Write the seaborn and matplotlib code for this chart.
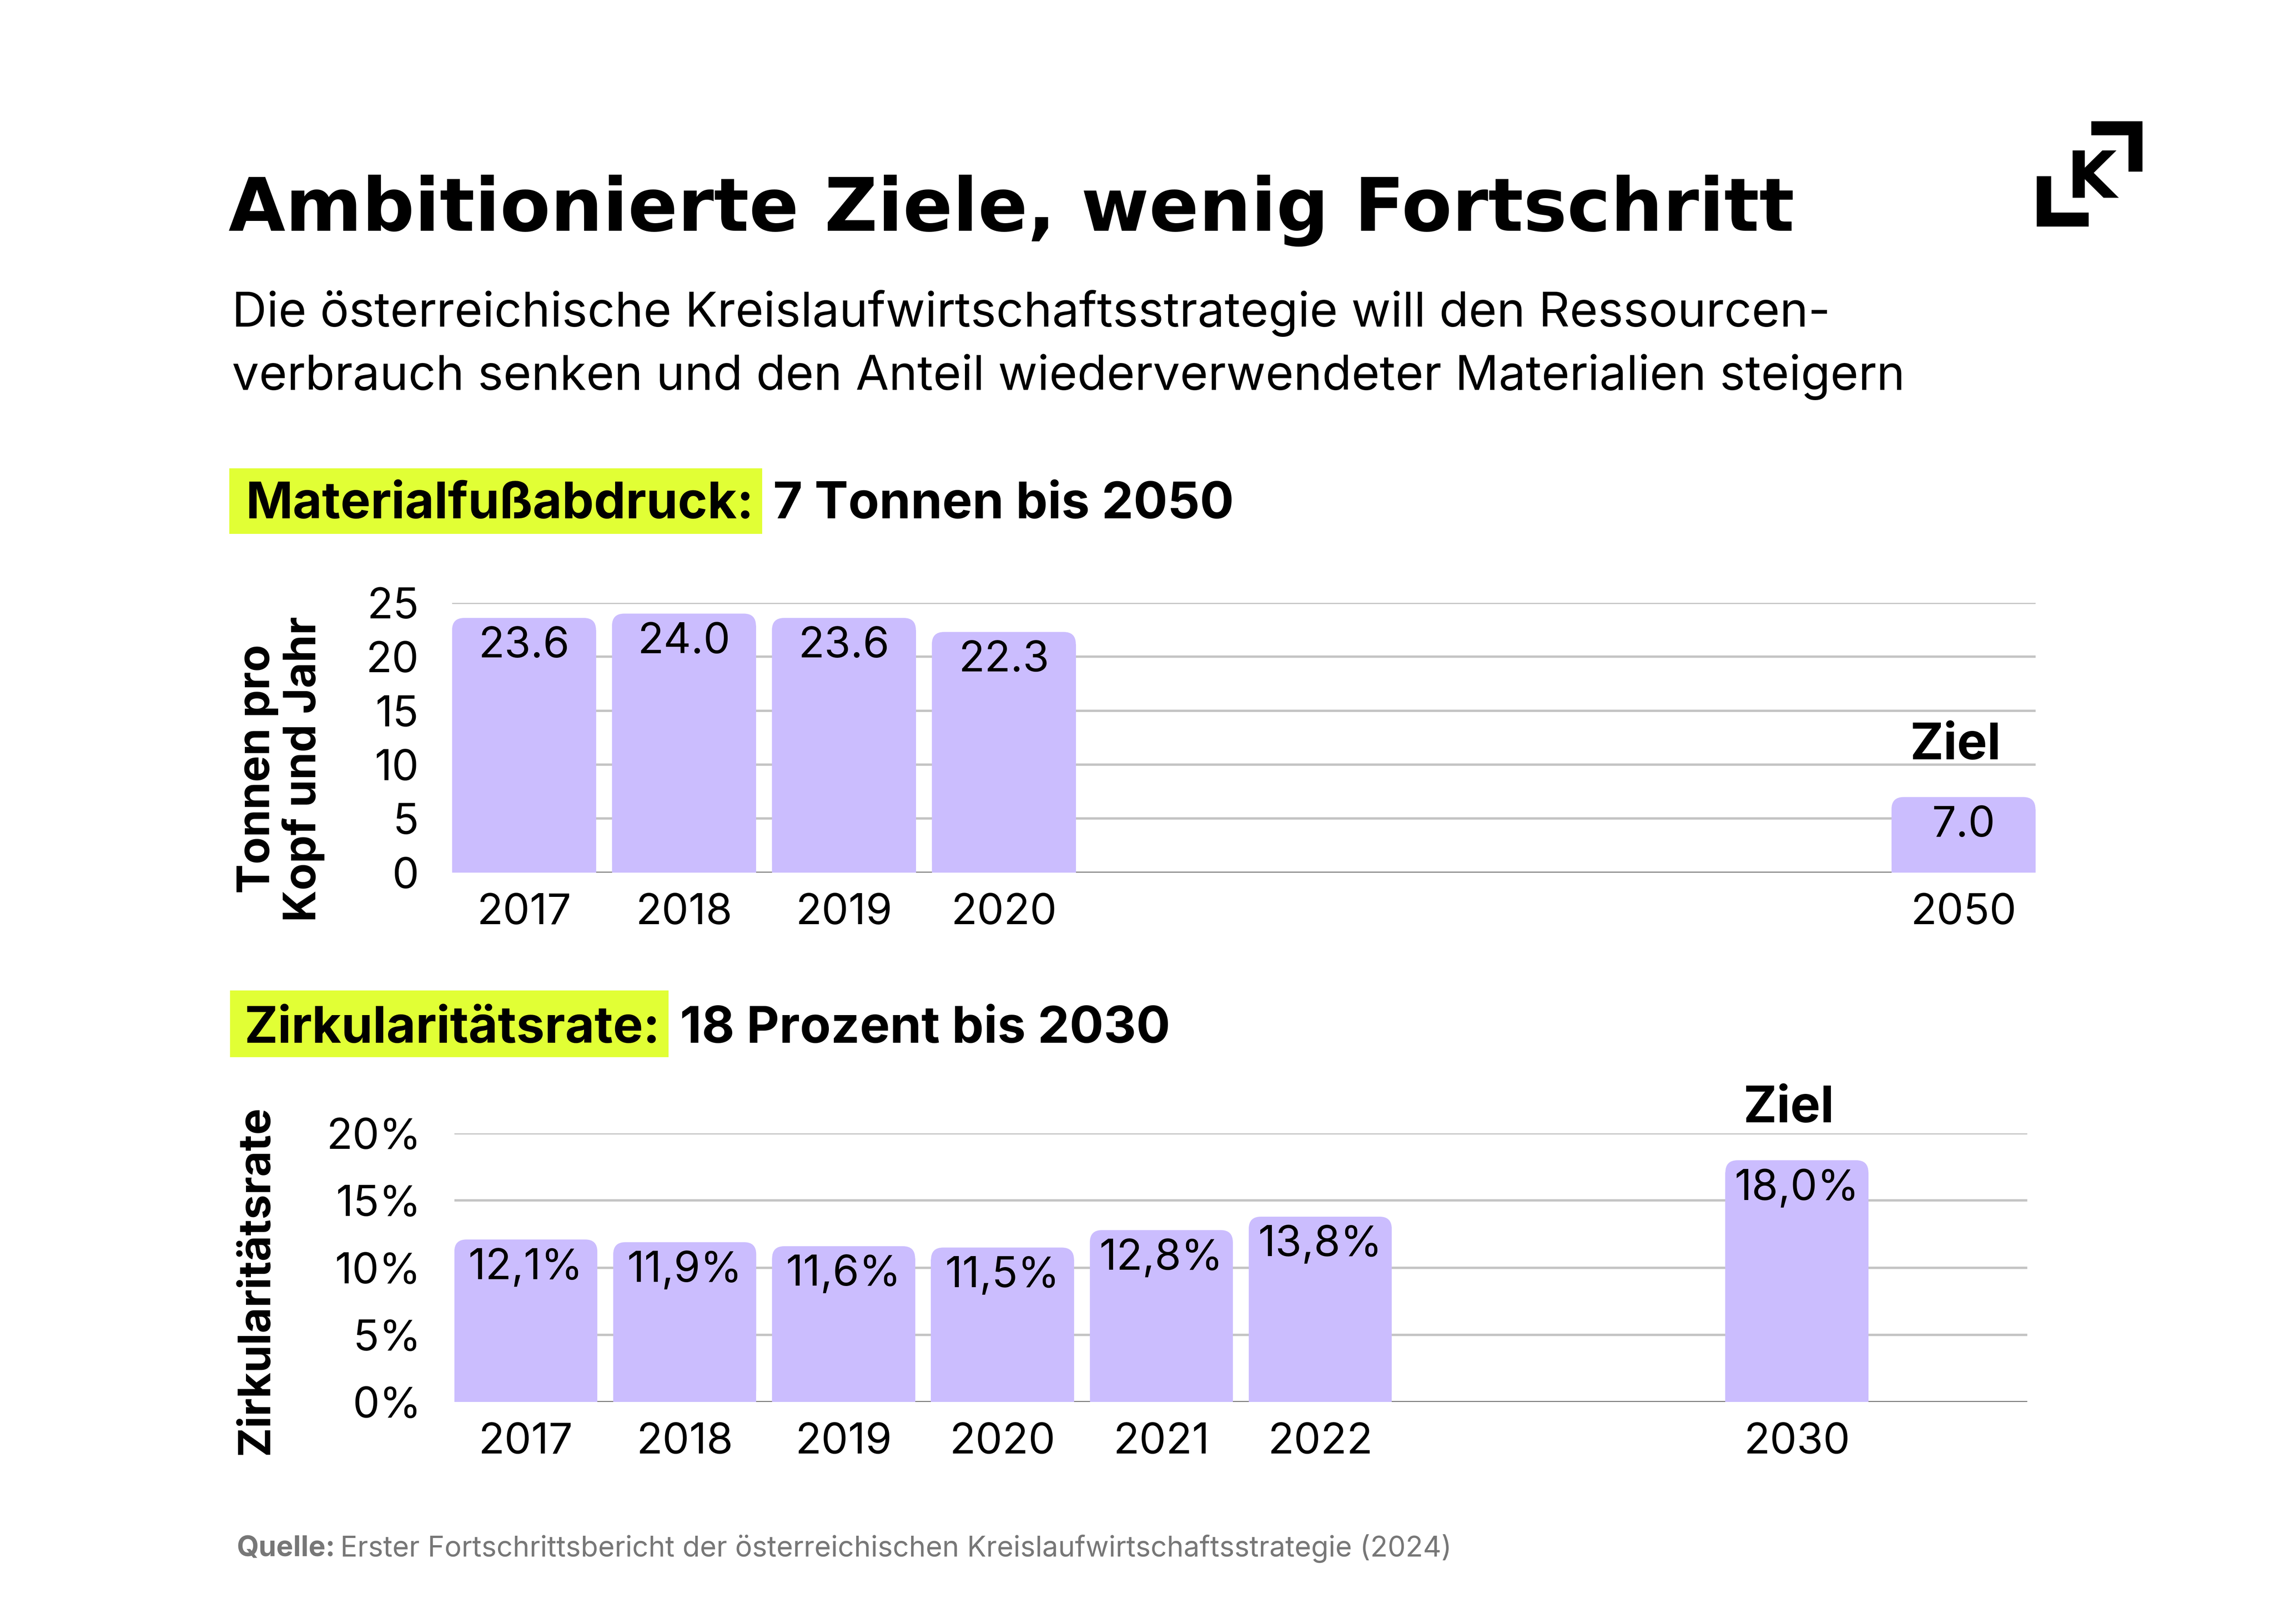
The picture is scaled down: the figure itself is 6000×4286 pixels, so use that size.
import pandas as pd
import seaborn as sns
import matplotlib.pyplot as plt
from matplotlib.patches import FancyBboxPatch, Rectangle

# %%    Data
mat_years = ['2017', '2018', '2019', '2020', '2050']
mat_values = [23.6, 24.0, 23.6, 22.3, 7.0]
mat_yticks = [0, 5, 10, 15, 20, 25]

zirk_years = ['2017', '2018', '2019', '2020', '2021', '2022', '2030']
zirk_values = [12.1, 11.9, 11.6, 11.5, 12.8, 13.8, 18.0]
zirk_yticks = [0, 5, 10, 15, 20]

# empty slots between the last measured year and the target year
mat_gaps = 5
zirk_gaps = 2

BAR = '#CBBDFE'
HIGHLIGHT = '#E1FF35'
GRID = '#C4C4C4'
W, H = 6000, 4286

sns.set_theme(style='white')
plt.rcParams['font.family'] = ['Inter', 'DejaVu Sans']
plt.rcParams['text.color'] = 'black'

fig = plt.figure(figsize=(W / 300, H / 300), dpi=300)
renderer = fig.canvas.get_renderer()


def fx(px):
    return px / W


def fy(py):
    return 1 - py / H


def bar_chart(ax, years, values, gaps, yticks, labels, ytick_fmt):
    order = years[:-1] + [' ' * (i + 1) for i in range(gaps)] + years[-1:]
    df = pd.DataFrame({'Jahr': years, 'Wert': values})
    sns.barplot(data=df, x='Jahr', y='Wert', order=order, color=BAR, saturation=1,
                width=0.9, linewidth=0, ax=ax)
    ax.set_xlim(-0.45, 9.45)
    ax.set_ylim(yticks[0], yticks[-1])
    ax.set_yticks(yticks)
    ax.set_yticklabels([ytick_fmt(t) for t in yticks])
    ax.grid(axis='y', color=GRID, lw=1.5)
    ax.grid(axis='x', visible=False)
    ax.set_axisbelow(True)
    ax.axhline(0, color='#707070', lw=1.0, zorder=0.9)
    for s in ax.spines.values():
        s.set_visible(False)
    ax.tick_params(axis='both', length=0, labelsize=27, colors='black')
    ax.tick_params(axis='y', pad=21)
    ax.tick_params(axis='x', pad=13)
    ax.set_xlabel('')
    ax.set_ylabel('')

    # round the top corners of the bars
    bb = ax.get_window_extent(renderer)
    x0, x1 = ax.get_xlim()
    y0, y1 = ax.get_ylim()
    rx = 32 / (bb.width / (x1 - x0))
    ry = 32 / (bb.height / (y1 - y0))
    for p in list(ax.patches):
        h = p.get_height()
        if h <= 0:
            continue
        top = FancyBboxPatch((p.get_x(), 0), p.get_width(), h,
                             boxstyle=f'round,pad=0,rounding_size={rx}',
                             mutation_aspect=ry / rx, fc=BAR, ec='none', zorder=2)
        ax.add_patch(top)
        p.set_height(h - ry)
        p.set_zorder(2)

    for year, v, lab in zip(years, values, labels):
        ax.annotate(lab, (order.index(year), v), xytext=(0, -18), textcoords='offset points',
                    ha='center', va='center', fontsize=27, zorder=3)
    ax.annotate('Ziel', (order.index(years[-1]), values[-1]), xytext=(-5, 24),
                textcoords='offset points', ha='center', va='baseline',
                fontsize=32, fontweight='bold', zorder=3)


def heading(x_px, base_px, box, bold, rest):
    t = fig.text(fx(x_px), fy(base_px), bold, fontsize=32, fontweight='bold',
                 ha='left', va='baseline', zorder=3)
    bb = t.get_window_extent(renderer)
    left, top, bottom = box
    fig.patches.append(Rectangle((fx(left), fy(bottom)), fx(bb.x1 + 22 - left),
                                 (bottom - top) / H, transform=fig.transFigure,
                                 fc=HIGHLIGHT, ec='none', zorder=1))
    fig.text(fx(bb.x1 + 52), fy(base_px), rest, fontsize=32, fontweight='bold',
             ha='left', va='baseline')


# %%    Title block
fig.text(fx(603), fy(609), 'Ambitionierte Ziele, wenig Fortschritt', fontsize=46.5,
         fontweight='bold', family='DejaVu Sans', ha='left', va='baseline')
fig.text(fx(612), fy(862), 'Die österreichische Kreislaufwirtschaftsstrategie will den Ressourcen-',
         fontsize=30.5, ha='left', va='baseline')
fig.text(fx(612), fy(1029), 'verbrauch senken und den Anteil wiederverwendeter Materialien steigern',
         fontsize=30.5, ha='left', va='baseline')

# %%    Logo
for (x0, y0, x1, y1) in [(5374, 465, 5412, 598), (5374, 561, 5511, 598),
                         (5518, 320, 5653, 357), (5616, 320, 5653, 453)]:
    fig.patches.append(Rectangle((fx(x0), fy(y1)), fx(x1 - x0), (y1 - y0) / H,
                                 transform=fig.transFigure, fc='black', ec='none'))
fig.text(fx(5519), fy(522), 'K', fontsize=41, fontweight='bold', family='DejaVu Sans',
         ha='center', va='baseline')

# %%    Materialfußabdruck
heading(648, 1368, (605, 1236, 1409), 'Materialfußabdruck:', '7 Tonnen bis 2050')
ax1 = fig.add_axes([0.1988, 0.4627, 0.6963, 0.1661])
bar_chart(ax1, mat_years, mat_values, mat_gaps, mat_yticks,
          [f'{v:.1f}' for v in mat_values], lambda t: f'{t}')
fig.text(0.1235, 0.5264, 'Tonnen pro\nKopf und Jahr', rotation=90, fontsize=28,
         fontweight='bold', ha='center', va='center', multialignment='center',
         linespacing=1.1)

# %%    Zirkularitätsrate
heading(645, 2752, (607, 2614, 2790), 'Zirkularitätsrate:', '18 Prozent bis 2030')
ax2 = fig.add_axes([0.1998, 0.1367, 0.6917, 0.1654])
bar_chart(ax2, zirk_years, zirk_values, zirk_gaps, zirk_yticks,
          [f'{v:.1f}%'.replace('.', ',') for v in zirk_values], lambda t: f'{t}%')
fig.text(0.1128, 0.2118, 'Zirkularitätsrate', rotation=90, fontsize=28,
         fontweight='bold', ha='center', va='center')

# %%    Source
q = fig.text(fx(624), fy(4107), 'Quelle:', fontsize=18, fontweight='bold', color='#777777',
             ha='left', va='baseline')
qb = q.get_window_extent(renderer)
fig.text(fx(qb.x1 + 14), fy(4107),
         'Erster Fortschrittsbericht der österreichischen Kreislaufwirtschaftsstrategie (2024)',
         fontsize=18, color='#777777', ha='left', va='baseline')

fig.savefig('out.png', dpi=300, facecolor='white')
